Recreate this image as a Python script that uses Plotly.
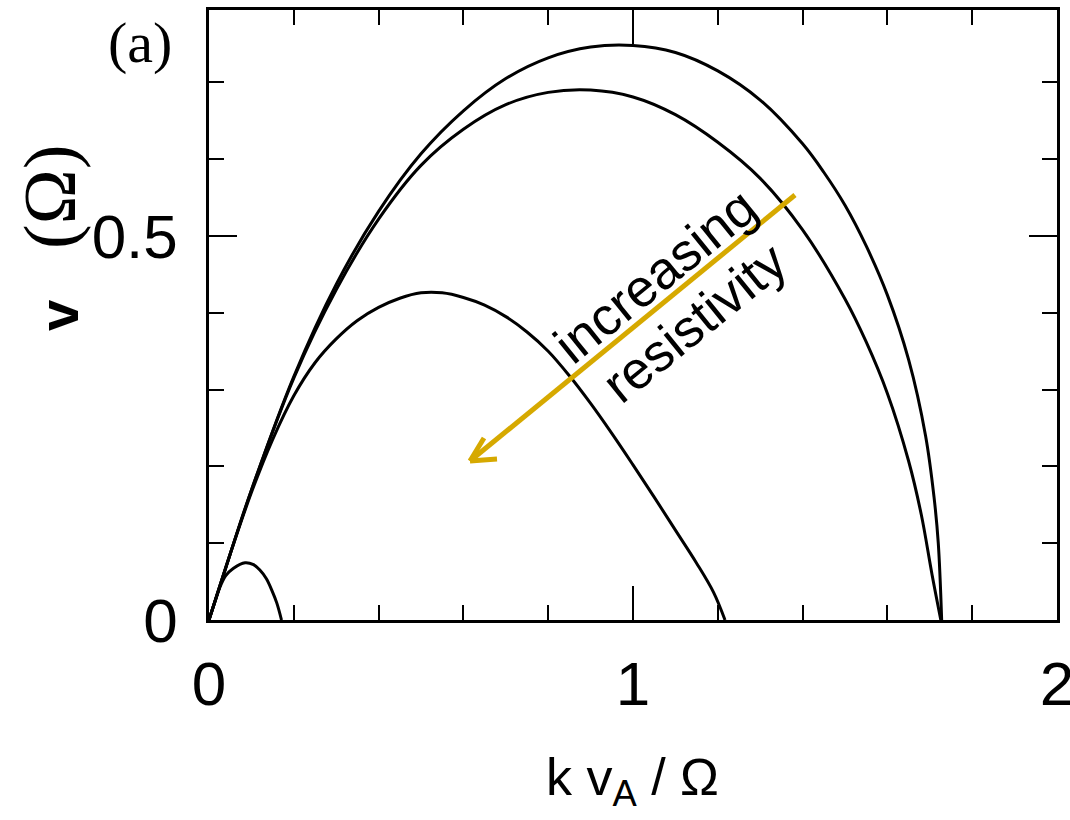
import plotly.graph_objects as go

# ---- data ----
k_ideal = [0, 0.05, 0.1, 0.2, 0.3, 0.4, 0.5, 0.6, 0.7, 0.8, 0.9, 1.0, 1.1, 1.2,
           1.3, 1.4, 1.45, 1.5, 1.55, 1.6, 1.65, 1.69, 1.71, 1.72, 1.728]
g_ideal = [0, 0.086, 0.169, 0.317, 0.437, 0.532, 0.607, 0.663, 0.705, 0.732, 0.746,
           0.748, 0.739, 0.715, 0.677, 0.620, 0.583, 0.540, 0.487, 0.423, 0.339,
           0.24, 0.16, 0.10, 0]

k_res1 = [0, 0.05, 0.1, 0.2, 0.3, 0.4, 0.5, 0.6, 0.7, 0.8, 0.9, 1.0, 1.1, 1.2,
          1.3, 1.4, 1.5, 1.55, 1.6, 1.65, 1.68, 1.705, 1.726]
g_res1 = [0, 0.086, 0.169, 0.315, 0.430, 0.522, 0.592, 0.639, 0.671, 0.687, 0.690,
          0.681, 0.658, 0.622, 0.575, 0.508, 0.418, 0.362, 0.295, 0.207, 0.137,
          0.06, 0]

k_res2 = [0, 0.05, 0.1, 0.15, 0.2, 0.25, 0.3, 0.35, 0.4, 0.45, 0.5, 0.55, 0.6, 0.65,
          0.7, 0.75, 0.8, 0.85, 0.9, 0.95, 1.0, 1.05, 1.1, 1.15, 1.19, 1.217]
g_res2 = [0, 0.086, 0.166, 0.235, 0.292, 0.335, 0.366, 0.390, 0.407, 0.419, 0.426,
          0.426, 0.420, 0.410, 0.395, 0.375, 0.350, 0.318, 0.282, 0.243, 0.202,
          0.160, 0.117, 0.074, 0.036, 0]

k_res3 = [0, 0.013, 0.026, 0.04, 0.057, 0.085, 0.105, 0.12, 0.135, 0.148, 0.16, 0.171]
g_res3 = [0, 0.022, 0.043, 0.058, 0.067, 0.0746, 0.072, 0.065, 0.054, 0.039, 0.022, 0]

x_ticks = [0, 1, 2]
x_ticklabels = ["0", "1", "2"]
y_ticks = [0, 0.5]
y_ticklabels = ["0", "0.5"]

# ---- layout geometry (pixels) ----
W, H = 1070, 820
L, R, T, B = 209, 1057, 10, 620


def px(xp):
    return (xp - L) / (R - L)


def py(yp):
    return (B - yp) / (B - T)


fig = go.Figure()
for kx, gy in [(k_ideal, g_ideal), (k_res1, g_res1), (k_res2, g_res2), (k_res3, g_res3)]:
    fig.add_trace(go.Scatter(x=kx, y=gy, mode="lines",
                             line=dict(color="black", width=3, shape="spline", smoothing=1.0),
                             showlegend=False, hoverinfo="skip"))

axis_common = dict(showgrid=False, zeroline=False, showline=True, linecolor="black", linewidth=2.5,
                   mirror="allticks", ticks="inside", tickcolor="black", tickwidth=2.2,
                   ticklabeloverflow="allow", automargin=False,
                   tickfont=dict(family="Liberation Sans, Arial", size=62, color="black"))

fig.update_xaxes(range=[0, 2], tickvals=x_ticks, ticktext=x_ticklabels, ticklen=34,
                 minor=dict(dtick=0.2, ticklen=15, ticks="inside", tickcolor="black", tickwidth=2.2),
                 ticklabelstandoff=8, **axis_common)
fig.update_yaxes(range=[0, (B - T) / 768], tickvals=y_ticks, ticktext=y_ticklabels, ticklen=28,
                 minor=dict(dtick=0.1, ticklen=15, ticks="inside", tickcolor="black", tickwidth=2.2),
                 ticklabelstandoff=16, **axis_common)

fig.update_layout(width=W, height=H, margin=dict(l=L, r=W - R, t=T, b=H - B, autoexpand=False),
                  plot_bgcolor="white", paper_bgcolor="white")


def note(xp, yp, text, size, family="Liberation Sans, Arial", angle=0):
    return dict(x=px(xp), y=py(yp), xref="paper", yref="paper", text=text, showarrow=False,
                xanchor="center", yanchor="middle", textangle=angle,
                font=dict(family=family, size=size, color="black"))


serif = "Liberation Serif, Times New Roman"
ann = [
    note(140, 43, "(a)", 58, serif),
    note(632, 781, "k v<sub>A</sub> / Ω", 52),
    note(58, 316, "<b>v</b>", 56, angle=-90),
    note(50, 197, "(Ω)", 74, serif, angle=-90),
    note(655, 275, "increasing", 53, angle=-39),
    note(694, 322, "resistivity", 53, angle=-39),
]
fig.update_layout(annotations=ann)

# gold arrow
gold = "#D6A900"
tail = (795, 195)
tip = (470, 461)
fig.add_shape(type="line", xref="paper", yref="paper", x0=px(tail[0]), y0=py(tail[1]),
              x1=px(tip[0]), y1=py(tip[1]), line=dict(color=gold, width=5))
for dx, dy in [(27, -2), (14, -23)]:
    fig.add_shape(type="line", xref="paper", yref="paper", x0=px(tip[0]), y0=py(tip[1]),
                  x1=px(tip[0] + dx), y1=py(tip[1] + dy), line=dict(color=gold, width=5))

fig.write_html("out.html")
